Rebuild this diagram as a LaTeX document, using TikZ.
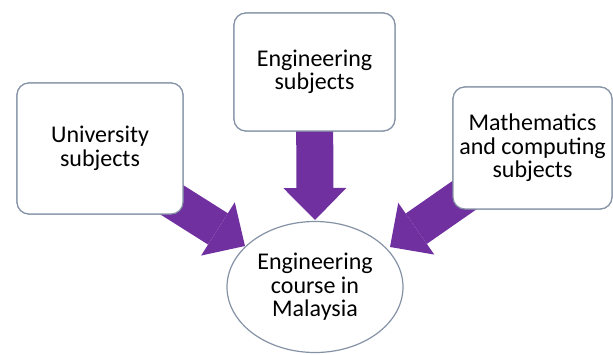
\documentclass[tikz,border=0pt]{standalone}
\usepackage{fontspec}
\setmainfont{Carlito}
\usetikzlibrary{shapes.geometric,arrows.meta,calc}
\definecolor{arrowpurple}{HTML}{7030A0}
\definecolor{boxline}{HTML}{8592A6}
\tikzset{
  box/.style={draw=boxline, line width=1.2pt, fill=white, rounded corners=12pt, align=center, inner sep=0pt, font=\fontsize{24}{23.5}\selectfont},
  goal/.style={draw=boxline, line width=1.2pt, fill=white, ellipse, align=center, inner sep=0pt, font=\fontsize{24}{23.5}\selectfont},
  bigarrow/.style={draw=arrowpurple, line width=37pt, -{Triangle[length=32pt,width=63pt,line width=0pt]}}
}
\begin{document}
\begin{tikzpicture}[x=1pt,y=-1pt]
\useasboundingbox (0,0) rectangle (613,354);
% placeholders fixing the positions of the boxes
\node[box, minimum width=166pt, minimum height=131pt] (U) at (100,148.5) {\phantom{x}};
\node[box, minimum width=161pt, minimum height=118pt] (T) at (314.5,72) {\phantom{x}};
\node[box, minimum width=159pt, minimum height=122pt] (M) at (532.5,148) {\phantom{x}};
\coordinate (tipU) at (245,246);
\coordinate (tipT) at (315,220);
\coordinate (tipM) at (390,247);
% arrows beneath the boxes
\draw[bigarrow] ($(U.south east)+(-20,-20)$) -- (tipU);
\draw[bigarrow] (T.center) -- (tipT);
\draw[bigarrow] ($(M.south west)+(20,-20)$) -- (tipM);
% boxes on top
\node[box, minimum width=166pt, minimum height=131pt] at (U) {University\\subjects};
\node[box, minimum width=161pt, minimum height=118pt] at (T) {Engineering\\subjects};
\node[box, minimum width=159pt, minimum height=122pt] at (M) {Mathematics\\and computing\\subjects};
\node[goal, minimum width=176pt, minimum height=131pt] (E) at (315,287) {Engineering\\course in\\Malaysia};
\end{tikzpicture}
\end{document}
